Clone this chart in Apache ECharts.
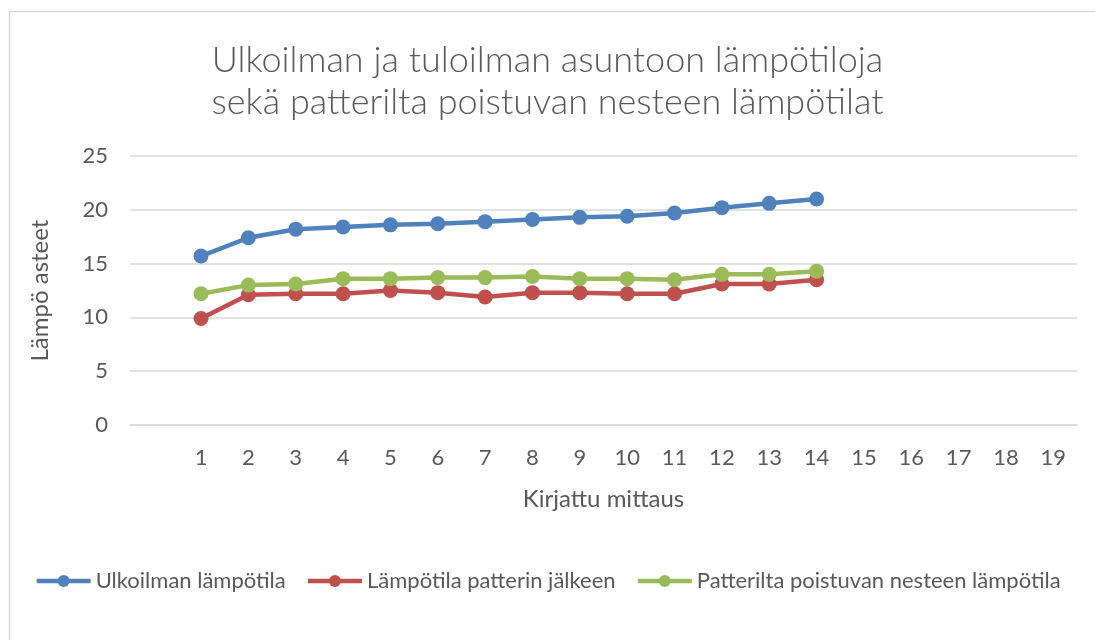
<!DOCTYPE html>
<html>
<head>
<meta charset="UTF-8">
<title>Lämpötilat</title>
<script src="https://cdn.jsdelivr.net/npm/echarts@6/dist/echarts.min.js"></script>
<style>
    html, body { margin: 0; padding: 0; background: #fff; }
    #main { width: 1095px; height: 640px; }
</style>
</head>
<body>
<div id="main"></div>
<script>
    // ensimmäinen luokka on tyhjä, kuten alkuperäisessä kaaviossa
    var mittaukset = ['', '1', '2', '3', '4', '5', '6', '7', '8', '9', '10', '11', '12', '13', '14', '15', '16', '17', '18', '19'];
    var ulkoilma = [null, 15.7, 17.4, 18.2, 18.4, 18.6, 18.7, 18.9, 19.1, 19.3, 19.4, 19.7, 20.2, 20.6, 21.0];
    var patterinJalkeen = [null, 9.9, 12.1, 12.2, 12.2, 12.5, 12.3, 11.9, 12.3, 12.3, 12.2, 12.2, 13.1, 13.1, 13.5];
    var poistuvaNeste = [null, 12.2, 13.0, 13.1, 13.6, 13.6, 13.7, 13.7, 13.8, 13.6, 13.6, 13.5, 14.0, 14.0, 14.3];
    var yTicks = [0, 25, 5]; // min, max, interval

    var fontti = 'Lato, "Open Sans", sans-serif';
    var harmaa = '#595959';

    function sarja(nimi, data, vari) {
        return {
            name: nimi,
            type: 'line',
            data: data,
            symbol: 'circle',
            symbolSize: 15,
            lineStyle: { width: 4.5, color: vari },
            itemStyle: { color: vari },
            connectNulls: false
        };
    }

    var myChart = echarts.init(document.getElementById('main'));
    myChart.setOption({
        animation: false,
        textStyle: { fontFamily: fontti },
        graphic: [{
            type: 'rect',
            shape: { x: 9.5, y: 11.5, width: 1200, height: 800 },
            style: { fill: 'none', stroke: '#d9d9d9', lineWidth: 1.5 },
            silent: true
        }],
        title: {
            text: 'Ulkoilman ja tuloilman asuntoon lämpötiloja\nsekä patterilta poistuvan nesteen lämpötilat',
            left: 'center',
            top: 34,
            textStyle: { fontSize: 36, fontWeight: 300, color: harmaa, lineHeight: 42, fontFamily: fontti }
        },
        legend: {
            bottom: 43,
            left: 'center',
            itemWidth: 54,
            itemHeight: 15,
            itemGap: 20,
            lineStyle: { width: 4.5 },
            textStyle: { fontSize: 22, color: harmaa, fontFamily: fontti },
            data: ['Ulkoilman lämpötila', 'Lämpötila patterin jälkeen', 'Patterilta poistuvan nesteen lämpötila']
        },
        grid: { left: 130, right: 18, top: 156, bottom: 215 },
        xAxis: {
            type: 'category',
            data: mittaukset,
            boundaryGap: true,
            name: 'Kirjattu mittaus',
            nameLocation: 'middle',
            nameGap: 62,
            nameTextStyle: { fontSize: 24, color: harmaa },
            axisLine: { lineStyle: { color: '#d9d9d9', width: 1.5 } },
            axisTick: { show: false },
            axisLabel: { fontSize: 22, color: harmaa, margin: 22, interval: 0 }
        },
        yAxis: {
            type: 'value',
            min: yTicks[0],
            max: yTicks[1],
            interval: yTicks[2],
            name: 'Lämpö asteet',
            nameLocation: 'middle',
            nameRotate: 90,
            nameGap: 78,
            nameTextStyle: { fontSize: 24, color: harmaa },
            axisLine: { show: false },
            axisTick: { show: false },
            axisLabel: { fontSize: 22, color: harmaa, margin: 22 },
            splitLine: { lineStyle: { color: '#d9d9d9', width: 1.5 } }
        },
        series: [
            sarja('Ulkoilman lämpötila', ulkoilma, '#4f81bd'),
            sarja('Lämpötila patterin jälkeen', patterinJalkeen, '#c0504d'),
            sarja('Patterilta poistuvan nesteen lämpötila', poistuvaNeste, '#9bbb59')
        ]
    });
</script>
</body>
</html>
